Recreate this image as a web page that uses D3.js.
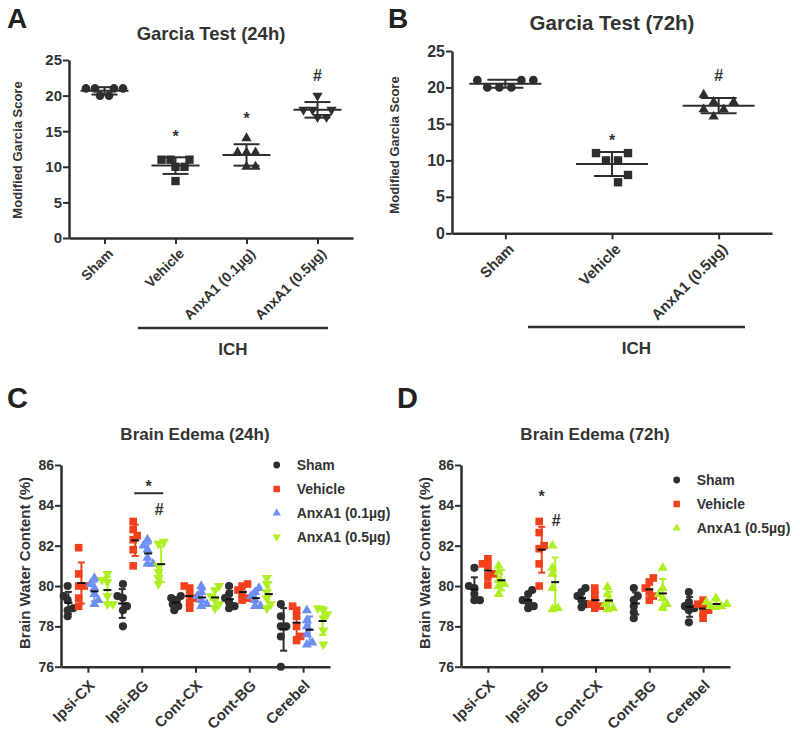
<!DOCTYPE html>
<html><head><meta charset="utf-8">
<script src="https://cdn.jsdelivr.net/npm/d3@7"></script>
<style>body{margin:0;background:#fff} svg text{font-family:"Liberation Sans",Arial,Helvetica,sans-serif;}</style>
</head><body><svg id="c" width="800" height="736"></svg>
<script>
// ---------------- DATA ----------------
const garciaGroups24 = ["Sham","Vehicle","AnxA1 (0.1µg)","AnxA1 (0.5µg)"];
const garciaGroups72 = ["Sham","Vehicle","AnxA1 (0.5µg)"];
const garciaTicks = [0,5,10,15,20,25];
const garcia24Sham    = [21,21,20,20,21,21];
const garcia24Vehicle = [11,10,10,11,11,8];
const garcia24Anx01   = [14,12,12,12,10,10];
const garcia24Anx05   = [20,18,18,18,17,17];
const garcia72Sham    = [21,20,20,20,21,21];
const garcia72Vehicle = [11,10,10,11,8,7];
const garcia72Anx05   = [19,18,18,17,17,16];
const garcia24Marks   = ["", "*", "*", "#"];
const garcia24MarkAt  = [0, 14.8, 17.3, 22.9];
const garcia72Marks   = ["", "*", "#"];
const garcia72MarkAt  = [0, 13.25, 21.7];

const regions = ["Ipsi-CX","Ipsi-BG","Cont-CX","Cont-BG","Cerebel"];
const edemaTicks = [76,78,80,82,84,86];
const edemaGroups24 = ["Sham","Vehicle","AnxA1 (0.1µg)","AnxA1 (0.5µg)"];
const edemaGroups72 = ["Sham","Vehicle","AnxA1 (0.5µg)"];
// per region arrays (Ipsi-CX, Ipsi-BG, Cont-CX, Cont-BG, Cerebel)
const edema24Sham = [
  [80.0,79.5,79.3,78.9,78.8,78.5],
  [80.1,79.5,79.4,79.0,78.8,78.0],
  [79.5,79.4,79.3,79.1,79.0,78.8],
  [80.0,79.6,79.4,79.2,79.0,78.9],
  [79.1,78.5,78.0,78.0,77.5,76.0]];
const edema24Vehicle = [
  [81.9,80.6,80.0,80.0,79.4,79.0],
  [83.2,82.8,82.5,82.3,81.8,81.0],
  [80.0,79.9,79.6,79.4,79.2,78.9],
  [80.1,80.0,79.8,79.6,79.4,79.3],
  [79.0,78.8,78.5,78.0,77.5,77.3]];
const edema24Anx01 = [
  [80.4,80.1,79.9,79.6,79.3,79.1],
  [82.3,82.0,81.8,81.4,81.1,81.1],
  [80.0,79.7,79.5,79.3,79.1,79.0],
  [79.9,79.7,79.5,79.3,79.0,79.0],
  [78.8,78.3,78.0,77.6,77.2,77.1]];
const edema24Anx05 = [
  [80.6,80.3,80.2,79.5,79.1,79.1],
  [82.2,82.1,81.0,80.7,80.4,80.1],
  [80.0,79.8,79.5,79.3,79.1,78.9],
  [80.4,80.1,79.7,79.4,79.1,78.9],
  [78.9,78.8,78.6,78.4,77.8,77.1]];
const edema72Sham = [
  [80.9,80.0,79.9,79.6,79.3,79.3],
  [79.8,79.6,79.3,79.2,79.0,78.9],
  [79.9,79.7,79.5,79.3,79.1,78.95],
  [79.9,79.5,79.3,79.0,78.7,78.4],
  [79.7,79.2,79.0,78.9,78.8,78.2]];
const edema72Vehicle = [
  [81.35,81.1,81.0,80.6,80.5,80.05],
  [83.2,82.65,82.0,81.85,81.1,80.0],
  [79.9,79.6,79.3,79.1,79.0,78.9],
  [80.4,80.2,79.9,79.7,79.5,79.3],
  [79.3,79.1,79.0,78.8,78.7,78.4]];
const edema72Anx05 = [
  [81.0,80.7,80.3,80.1,80.0,79.6],
  [82.0,80.9,80.6,79.9,78.9,78.85],
  [79.95,79.6,79.3,79.1,78.9,78.85],
  [80.9,79.9,79.6,79.4,79.1,78.9],
  [79.4,79.2,79.1,79.0,79.0,78.95]];

// ---------------- STYLE ----------------
const AX = "#2e2e2e";
const TXT = "#333";
const COL = {sham:"#2f2f2f", vehicle:"#f2401c", anx01:"#6c8ef0", anx05:"#aeef22"};
const svg = d3.select("#c");
svg.append("rect").attr("width",800).attr("height",736).attr("fill","#fff");

function sym(shape, size){
  const t = {circle:d3.symbolCircle, square:d3.symbolSquare, up:d3.symbolTriangle, down:d3.symbolTriangle}[shape];
  return d3.symbol().type(t).size(size)();
}
function swarm(vals, y, d){
  const idx = vals.map((v,i)=>i).sort((a,b)=>vals[a]-vals[b]);
  const placed = []; const off = new Array(vals.length).fill(0);
  let side = 1;
  for (const i of idx){
    const py = y(vals[i]);
    let best = 0;
    for (let k=0;k<800;k++){
      const cand = k===0?0:(Math.ceil(k/2)*0.5)*(k%2? side:-side);
      if (placed.every(p => Math.hypot(p.x-cand, p.y-py) >= d - 1e-6)) {best=cand;break;}
    }
    if (best!==0) side = -Math.sign(best);
    placed.push({x:best,y:py}); off[i]=best;
  }
  const c = (d3.min(off)+d3.max(off))/2;
  return off.map(o=>o-c);
}
function styleAxis(sel, w){
  sel.select(".domain").attr("stroke",AX).attr("stroke-width",w);
  sel.selectAll(".tick line").attr("stroke",AX).attr("stroke-width",2);
}
function text(g, x, y, s, size, opts={}){
  const t = g.append("text").attr("x",x).attr("y",y).text(s)
    .attr("font-size",size).attr("font-weight",opts.weight||"bold")
    .attr("fill",opts.fill||TXT).attr("text-anchor",opts.anchor||"middle");
  if (opts.rotate!==undefined) t.attr("transform",`rotate(${opts.rotate},${x},${y})`);
  if (opts.dy) t.attr("dy",opts.dy);
  return t;
}
function mark(g, x, yc, s, size){
  const base = s==="*" ? yc + 0.57*size : yc + 0.36*size;
  text(g, x, base, s, size, {fill:TXT});
}

// ---------------- GARCIA PANELS ----------------
function garciaPanel(cfg){
  const g = svg.append("g");
  const x = d3.scalePoint().domain(cfg.groups).range([cfg.axisX, cfg.axisRight]).padding(0.5);
  const y = d3.scaleLinear().domain([0,25]).range([cfg.yBottom, cfg.yTop]);
  const ya = g.append("g").attr("transform",`translate(${cfg.axisX},0)`)
    .call(d3.axisLeft(y).tickValues(garciaTicks).tickSize(6).tickSizeOuter(0).tickPadding(1));
  styleAxis(ya, 2.5);
  ya.selectAll(".tick text").attr("font-size",cfg.tickFont).attr("font-weight","bold").attr("fill",TXT);
  const xa = g.append("g").attr("transform",`translate(0,${cfg.yBottom})`)
    .call(d3.axisBottom(x).tickSize(6).tickSizeOuter(0).tickFormat(""));
  styleAxis(xa, 2.5);
  cfg.groups.forEach(grp=>{
    text(g, x(grp)+6, cfg.yBottom+13, grp, cfg.labFont, {anchor:"end", rotate:-45, dy:"0.35em"});
  });
  cfg.data.forEach((vals,i)=>{
    const cx = x(cfg.groups[i]);
    const m = d3.mean(vals), sd = d3.deviation(vals);
    const off = swarm(vals, y, cfg.swarmD);
    g.append("line").attr("x1",cx).attr("x2",cx).attr("y1",y(m-sd)).attr("y2",y(m+sd)).attr("stroke",AX).attr("stroke-width",2);
    [m-sd,m+sd].forEach(v=>g.append("line").attr("x1",cx-cfg.capHalf).attr("x2",cx+cfg.capHalf)
      .attr("y1",y(v)).attr("y2",y(v)).attr("stroke",AX).attr("stroke-width",2));
    g.append("line").attr("x1",cx-cfg.meanHalf).attr("x2",cx+cfg.meanHalf)
      .attr("y1",y(m)).attr("y2",y(m)).attr("stroke",AX).attr("stroke-width",2);
    vals.forEach((v,j)=>{
      const sh = cfg.shapes[i];
      g.append("path").attr("d",sym(sh, sh==="square"?70:(sh==="circle"?60:46)))
        .attr("transform",`translate(${cx+off[j]},${y(v)})${sh==="down"?" rotate(180)":""}`)
        .attr("fill",AX);
    });
    if (cfg.marks[i]) mark(g, cx, y(cfg.markAt[i]), cfg.marks[i], 16);
  });
  text(g, cfg.titleX, cfg.titleY, cfg.title, cfg.titleFont);
  text(g, cfg.letterX, cfg.letterY, cfg.letter, 28, {anchor:"start", fill:"#222"});
  text(g, cfg.ylabX, cfg.ylabY, "Modified Garcia Score", 13, {rotate:-90, dy:"0.35em"});
  g.append("line").attr("x1",cfg.ich[0]).attr("x2",cfg.ich[1]).attr("y1",cfg.ich[2]).attr("y2",cfg.ich[2])
    .attr("stroke",AX).attr("stroke-width",2.5);
  text(g, (cfg.ich[0]+cfg.ich[1])/2, cfg.ich[2]+27, "ICH", 17);
}

garciaPanel({groups:garciaGroups24, data:[garcia24Sham,garcia24Vehicle,garcia24Anx01,garcia24Anx05],
  shapes:["circle","square","up","down"], axisX:69, axisRight:353, yBottom:238, yTop:60,
  meanHalf:24, capHalf:13, marks:garcia24Marks, markAt:garcia24MarkAt, swarmD:8.6,
  tickFont:15, labFont:14, titleFont:18.5,
  title:"Garcia Test (24h)", titleX:211, titleY:40, letter:"A", letterX:7, letterY:28,
  ylabX:17, ylabY:150, ich:[138,328,328]});
garciaPanel({groups:garciaGroups72, data:[garcia72Sham,garcia72Vehicle,garcia72Anx05],
  shapes:["circle","square","up"], axisX:452, axisRight:772, yBottom:233.3, yTop:51,
  meanHalf:36, capHalf:18, marks:garcia72Marks, markAt:garcia72MarkAt, swarmD:12,
  tickFont:16, labFont:15, titleFont:20.5,
  title:"Garcia Test (72h)", titleX:612, titleY:30, letter:"B", letterX:388, letterY:28,
  ylabX:394, ylabY:145, ich:[528,745,327]});

// ---------------- EDEMA PANELS ----------------
function edemaPanel(cfg){
  const g = svg.append("g");
  const x = d3.scalePoint().domain(regions).range([cfg.axisX, cfg.axisRight]).padding(0.5);
  const inner = d3.scalePoint().domain(cfg.groups).range([-cfg.spread, cfg.spread]);
  const y = d3.scaleLinear().domain([76,86]).range([666.7, 465]);
  const ya = g.append("g").attr("transform",`translate(${cfg.axisX},0)`)
    .call(d3.axisLeft(y).tickValues(edemaTicks).tickSize(6).tickSizeOuter(0).tickPadding(1));
  styleAxis(ya, 2.5);
  ya.selectAll(".tick text").attr("font-size",14).attr("font-weight","bold").attr("fill",TXT);
  const xa = g.append("g").attr("transform",`translate(0,666.7)`)
    .call(d3.axisBottom(x).tickSize(6).tickSizeOuter(0).tickFormat(""));
  styleAxis(xa, 2.5);
  regions.forEach(r=>{
    text(g, x(r)+4, 666.7+16, r, 15, {anchor:"end", rotate:-45, dy:"0.35em"});
  });
  regions.forEach((r,ri)=>{
    cfg.groups.forEach((grp,gi)=>{
      const vals = cfg.data[gi][ri];
      const cx = x(r)+inner(grp);
      const m = d3.mean(vals), sd = d3.deviation(vals);
      const col = cfg.colors[gi];
      const off = swarm(vals, y, 5.5);
      g.append("line").attr("x1",cx).attr("x2",cx).attr("y1",y(m-sd)).attr("y2",y(m+sd)).attr("stroke",col).attr("stroke-width",2);
      [m-sd,m+sd].forEach(v=>g.append("line").attr("x1",cx-3.5).attr("x2",cx+3.5)
        .attr("y1",y(v)).attr("y2",y(v)).attr("stroke",col).attr("stroke-width",2));
      vals.forEach((v,j)=>{
        const sh = cfg.shapes[gi];
        g.append("path").attr("d",sym(sh, sh==="square"?58:(sh==="circle"?52:44)))
          .attr("transform",`translate(${cx+off[j]},${y(v)})${sh==="down"?" rotate(180)":""}`)
          .attr("fill",col);
      });
      g.append("line").attr("x1",cx-4).attr("x2",cx+4).attr("y1",y(m)).attr("y2",y(m))
        .attr("stroke","#111").attr("stroke-width",2);
    });
  });
  cfg.groups.forEach((grp,gi)=>{
    const ly = cfg.legY + gi*cfg.legStep;
    const sh = cfg.shapes[gi];
    g.append("path").attr("d",sym(sh, sh==="square"?42:(sh==="circle"?36:30)))
      .attr("transform",`translate(${cfg.legX},${ly})${sh==="down"?" rotate(180)":""}`)
      .attr("fill",cfg.colors[gi]);
    text(g, cfg.legX+20, ly, grp, 14, {anchor:"start", dy:"0.35em"});
  });
  cfg.ann(g, x, inner, y);
  text(g, cfg.titleX, 440, cfg.title, 17);
  text(g, cfg.letterX, 408, cfg.letter, 29, {anchor:"start", fill:"#222"});
  text(g, cfg.ylabX, 563, "Brain Water Content (%)", 15, {rotate:-90, dy:"0.35em"});
}

edemaPanel({groups:edemaGroups24, data:[edema24Sham,edema24Vehicle,edema24Anx01,edema24Anx05],
  shapes:["circle","square","up","down"], colors:[COL.sham,COL.vehicle,COL.anx01,COL.anx05],
  axisX:61, axisRight:330, spread:19.5, legX:276.7, legY:465, legStep:24,
  title:"Brain Edema (24h)", titleX:195, letter:"C", letterX:7, ylabX:25,
  ann:(g,x,inner,y)=>{
    const x1 = x("Ipsi-BG")+inner("Vehicle")-1, x2 = x("Ipsi-BG")+inner("AnxA1 (0.5µg)")+2;
    g.append("line").attr("x1",x1).attr("x2",x2).attr("y1",y(84.6)).attr("y2",y(84.6)).attr("stroke",AX).attr("stroke-width",2);
    mark(g, (x1+x2)/2, y(85.1), "*", 16);
    mark(g, x("Ipsi-BG")+inner("AnxA1 (0.5µg)")-2, y(83.8), "#", 16);
  }});
edemaPanel({groups:edemaGroups72, data:[edema72Sham,edema72Vehicle,edema72Anx05],
  shapes:["circle","square","up"], colors:[COL.sham,COL.vehicle,COL.anx05],
  axisX:461, axisRight:730, spread:13.5, legX:676.7, legY:480, legStep:24,
  title:"Brain Edema (72h)", titleX:595, letter:"D", letterX:397, ylabX:425,
  ann:(g,x,inner,y)=>{
    mark(g, x("Ipsi-BG")+inner("Vehicle"), y(84.6), "*", 16);
    mark(g, x("Ipsi-BG")+inner("AnxA1 (0.5µg)")+1, y(83.27), "#", 16);
  }});
</script></body></html>
